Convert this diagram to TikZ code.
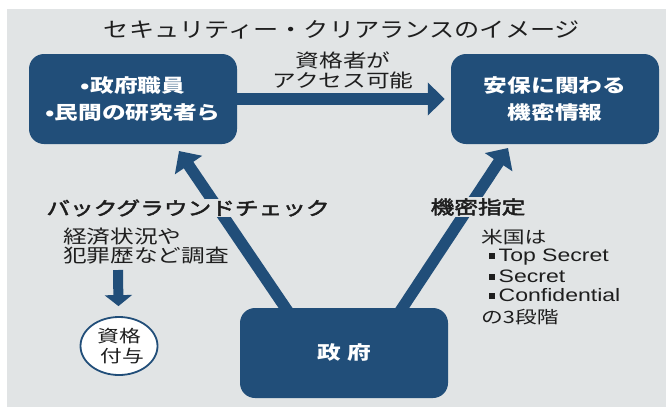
\documentclass[tikz,border=0pt]{standalone}
\usepackage{fontspec}
\setmainfont[FakeStretch=1.28]{Noto Sans CJK JP}
\newfontfamily\medfont[FakeStretch=1.28, FakeBold=2.5]{Noto Sans CJK JP}
\newfontfamily\titlefont[FakeStretch=1.2]{Noto Sans CJK JP}
\newfontfamily\latinf[FakeStretch=1.28]{Liberation Sans}
\usetikzlibrary{arrows.meta,shapes.geometric}
\definecolor{navy}{HTML}{214E79}
\definecolor{bgc}{HTML}{E1E4E5}
\definecolor{ink}{HTML}{1E1E1E}
\pgfdeclarelayer{backdrop}
\pgfdeclarelayer{arrowlayer}
\pgfsetlayers{backdrop,arrowlayer,main}
\tikzset{
  navybox/.style={fill=navy, rounded corners=15pt, minimum width=208pt, minimum height=90pt,
    text=white, align=center, inner sep=0pt, font=\bfseries\fontsize{18.5}{27}\selectfont},
  bigarrow/.style={navy, line width=11.5pt, -{Triangle[length=17pt,width=32pt]}},
  smallarrow/.style={navy, line width=10pt, -{Triangle[length=11pt,width=27pt]}},
  gaplabel/.style={fill=bgc, inner sep=1pt, text=ink, font=\medfont\fontsize{18.5}{20}\selectfont},
  plaintext/.style={text=ink, inner sep=0pt, font=\fontsize{18.5}{20}\selectfont},
  notetext/.style={text=ink, inner sep=0pt, anchor=west, font=\fontsize{17}{19}\selectfont},
  latintext/.style={text=ink, inner sep=0pt, anchor=west, font=\latinf\fontsize{18}{19}\selectfont},
}
\newcommand{\sqbul}{\rule[2pt]{6pt}{6pt}\hspace{3.5pt}}
\begin{document}
\begin{tikzpicture}[x=1pt, y=-1pt]
\useasboundingbox (0,0) rectangle (666,407);
\begin{pgfonlayer}{backdrop}
\fill[bgc] (7,9) rectangle (666,407);
\end{pgfonlayer}

% title
\node[text=ink, inner sep=0pt, font=\titlefont\fontsize{21}{23}\selectfont] (title) at (342,30)
  {セキュリティー・クリアランスのイメージ};

% boxes
\node[navybox] (lbox) at (133,99) {•政府職員\\•民間の研究者ら};
\node[navybox] (rbox) at (555,99) {安保に関わる\\機密情報};
\node[navybox] (gov) at (344,353) {政\hspace{0.35em}府};

% coordinates for arrow ends
\coordinate (gl) at (291,316);
\coordinate (lt) at (179,151);
\coordinate (gr) at (397,316);
\coordinate (rt) at (508,148);
\coordinate (ds) at (118,270);

% qualification ellipse
\node[ellipse, draw=navy, line width=1.8pt, fill=white, minimum width=77pt, minimum height=58pt,
  inner sep=0pt, text=ink, align=center, font=\fontsize{17}{20}\selectfont] (qual) at (119,346)
  {資格\\\hspace*{6pt}付与};

% arrows (behind boxes)
\begin{pgfonlayer}{arrowlayer}
\draw[bigarrow, shorten >=6pt] (lbox) -- (rbox);
\draw[bigarrow] (gl) -- (lt);
\draw[bigarrow] (gr) -- (rt);
\draw[smallarrow, shorten >=10pt] (ds) -- (qual);
\end{pgfonlayer}

% top label
\node[plaintext, align=center] (access) at (343,70) {資格者が\\アクセス可能};

% labels on diagonal arrows
\node[gaplabel] (bg) at (188,208) {バックグラウンドチェック};
\node[gaplabel] (kimitsu) at (478,207) {機密指定};

% investigation note
\node[plaintext, anchor=west] (inv1) at (63,237) {経済状況や};
\node[plaintext, anchor=west] (inv2) at (63,256) {犯罪歴など調査};

% US levels note
\node[notetext] (us) at (481,237) {米国は};
\node[latintext] (l1) at (489,257) {\sqbul Top Secret};
\node[latintext] (l2) at (489,276) {\sqbul Secret};
\node[latintext] (l3) at (489,295) {\sqbul Confidential};
\node[notetext] (lv) at (481,317) {の3段階};
\end{tikzpicture}
\end{document}
